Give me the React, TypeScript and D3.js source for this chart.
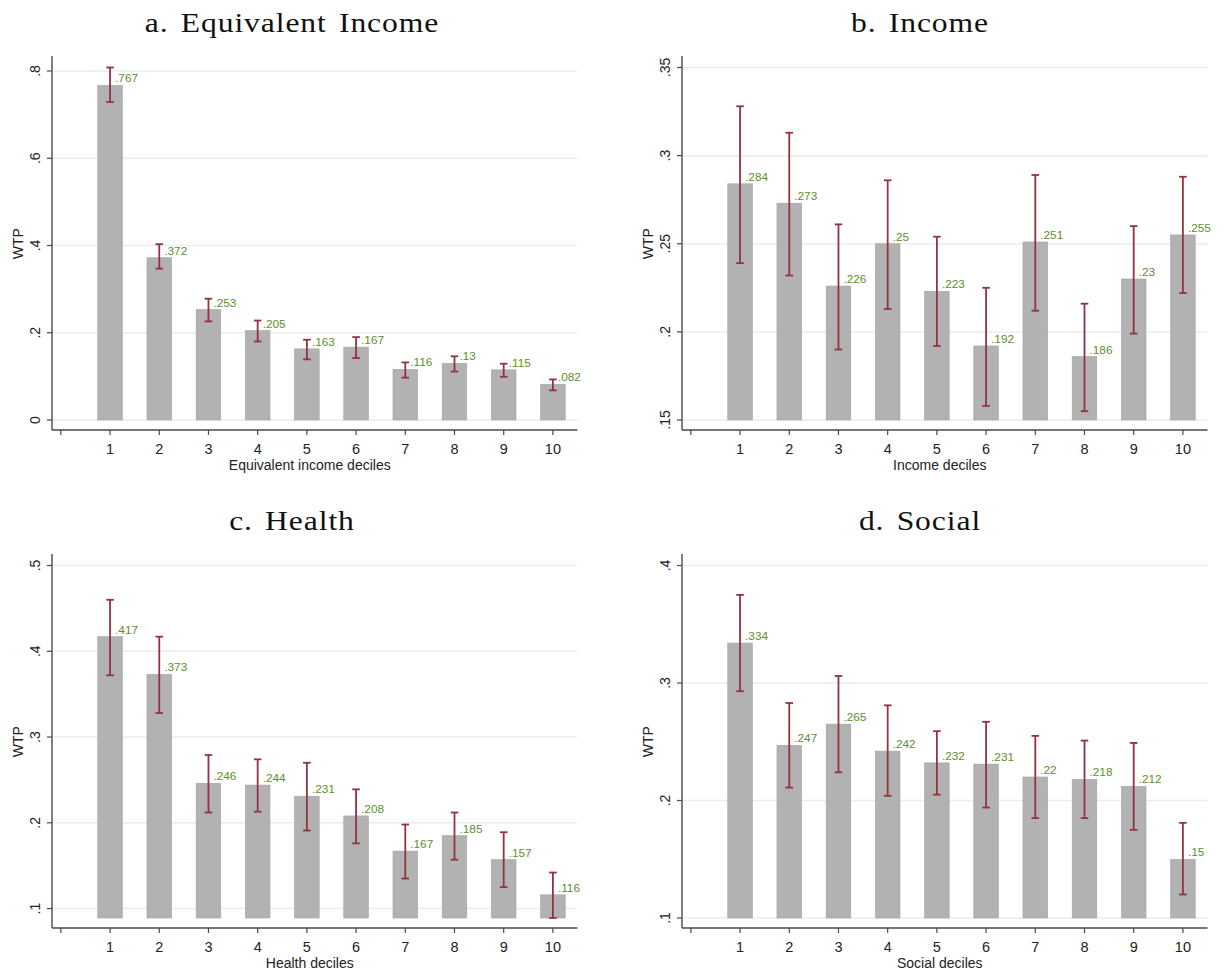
import React from "react";
import * as d3 from "d3";

// Decile categories shared by every panel
const deciles = [1, 2, 3, 4, 5, 6, 7, 8, 9, 10];

// a. Equivalent income
const eqIncomeWTP = [0.767, 0.372, 0.253, 0.205, 0.163, 0.167, 0.116, 0.13, 0.115, 0.082];
const eqIncomeLow = [0.729, 0.347, 0.226, 0.18, 0.139, 0.142, 0.097, 0.111, 0.099, 0.068];
const eqIncomeHigh = [0.808, 0.403, 0.278, 0.228, 0.184, 0.19, 0.132, 0.146, 0.129, 0.093];
const eqIncomeTicks = [0, 0.2, 0.4, 0.6, 0.8];

// b. Income
const incomeWTP = [0.284, 0.273, 0.226, 0.25, 0.223, 0.192, 0.251, 0.186, 0.23, 0.255];
const incomeLow = [0.239, 0.232, 0.19, 0.213, 0.192, 0.158, 0.212, 0.155, 0.199, 0.222];
const incomeHigh = [0.328, 0.313, 0.261, 0.286, 0.254, 0.225, 0.289, 0.216, 0.26, 0.288];
const incomeTicks = [0.15, 0.2, 0.25, 0.3, 0.35];

// c. Health
const healthWTP = [0.417, 0.373, 0.246, 0.244, 0.231, 0.208, 0.167, 0.185, 0.157, 0.116];
const healthLow = [0.372, 0.328, 0.212, 0.213, 0.191, 0.176, 0.135, 0.157, 0.125, 0.089];
const healthHigh = [0.46, 0.417, 0.279, 0.274, 0.27, 0.239, 0.198, 0.212, 0.189, 0.142];
const healthTicks = [0.1, 0.2, 0.3, 0.4, 0.5];

// d. Social
const socialWTP = [0.334, 0.247, 0.265, 0.242, 0.232, 0.231, 0.22, 0.218, 0.212, 0.15];
const socialLow = [0.293, 0.211, 0.224, 0.204, 0.205, 0.194, 0.185, 0.185, 0.175, 0.12];
const socialHigh = [0.375, 0.283, 0.306, 0.281, 0.259, 0.267, 0.255, 0.251, 0.249, 0.181];
const socialTicks = [0.1, 0.2, 0.3, 0.4];

const panelTitles = ["a. Equivalent Income", "b. Income", "c. Health", "d. Social"];
const axisTitles = ["Equivalent income deciles", "Income deciles", "Health deciles", "Social deciles"];

const panels = [
  { title: panelTitles[0], xTitle: axisTitles[0], wtp: eqIncomeWTP, low: eqIncomeLow, high: eqIncomeHigh, ticks: eqIncomeTicks, col: 0, row: 0 },
  { title: panelTitles[1], xTitle: axisTitles[1], wtp: incomeWTP, low: incomeLow, high: incomeHigh, ticks: incomeTicks, col: 1, row: 0 },
  { title: panelTitles[2], xTitle: axisTitles[2], wtp: healthWTP, low: healthLow, high: healthHigh, ticks: healthTicks, col: 0, row: 1 },
  { title: panelTitles[3], xTitle: axisTitles[3], wtp: socialWTP, low: socialLow, high: socialHigh, ticks: socialTicks, col: 1, row: 1 },
];

// Stata-style number: drop the leading zero (".25", "0")
const stataNum = (v: number) => {
  const s = d3.format("")(+v.toFixed(3));
  return s.replace(/^0\./, ".").replace(/^-0\./, "-.");
};

const SANS = "'Liberation Sans', Arial, sans-serif";
const SERIF = "'Liberation Serif', 'Times New Roman', serif";
const AXIS = "#4a4a4a";
const GRID = "#ececec";
const BAR = "#b2b2b2";
const BAR_EDGE = "#a2a2a2";
const CI = "#94323f";
const LABEL = "#5e8f2c";

function Panel({ p }: { p: (typeof panels)[number] }) {
  const yAxisX = p.col === 0 ? 52 : 682;
  const axisEndX = yAxisX + 525.5;
  const rowOff = p.row === 0 ? 0 : 498;
  const plotTop = 67.5 + rowOff;
  const plotBottom = 420 + rowOff;
  const xAxisY = 430 + rowOff;
  const yAxisTop = 56 + rowOff;

  const yMin = Math.min(p.ticks[0], d3.min(p.low) as number);
  const yMax = Math.max(p.ticks[p.ticks.length - 1], d3.max(p.high) as number);
  const y = d3.scaleLinear().domain([yMin, yMax]).range([plotBottom, plotTop]);
  const x = d3.scaleLinear().domain([-0.18, 10.5]).range([yAxisX, axisEndX]);
  const barW = x(0.5) - x(0);
  const xTicks = d3.range(0, 11);
  const titleX = p.col === 0 ? 292 : 920;
  const midX = (yAxisX + axisEndX) / 2 - 5;

  return (
    <g>
      <g transform={`translate(${titleX},${31.5 + rowOff}) scale(1.13,1)`}>
        <text x={0} y={0} textAnchor="middle" fontFamily={SERIF} fontSize={28} letterSpacing={0.8} wordSpacing={3} fill="#111">
          {p.title}
        </text>
      </g>
      {/* grid */}
      {p.ticks.map((t) => (
        <line key={"g" + t} x1={yAxisX} x2={axisEndX} y1={y(t)} y2={y(t)} stroke={GRID} strokeWidth={1.5} />
      ))}
      {/* bars */}
      {p.wtp.map((v, i) => (
        <rect
          key={"b" + i}
          x={x(deciles[i]) - barW / 2}
          y={y(v)}
          width={barW}
          height={y(yMin) - y(v)}
          fill={BAR}
          stroke={BAR_EDGE}
          strokeWidth={0.6}
        />
      ))}
      {/* confidence intervals */}
      {p.wtp.map((_, i) => {
        const cx = x(deciles[i]);
        return (
          <g key={"c" + i} stroke={CI} strokeWidth={1.8}>
            <line x1={cx} x2={cx} y1={y(p.high[i])} y2={y(p.low[i])} />
            <line x1={cx - 3.8} x2={cx + 3.8} y1={y(p.high[i])} y2={y(p.high[i])} />
            <line x1={cx - 3.8} x2={cx + 3.8} y1={y(p.low[i])} y2={y(p.low[i])} />
          </g>
        );
      })}
      {/* value labels */}
      {p.wtp.map((v, i) => (
        <text key={"l" + i} x={x(deciles[i]) + 5} y={y(v) - 3} fontFamily={SANS} fontSize={11.8} fill={LABEL}>
          {stataNum(v)}
        </text>
      ))}
      {/* y axis */}
      <line x1={yAxisX} x2={yAxisX} y1={yAxisTop} y2={xAxisY} stroke={AXIS} strokeWidth={1.4} />
      {p.ticks.map((t) => (
        <g key={"yt" + t}>
          <line x1={yAxisX - 5} x2={yAxisX} y1={y(t)} y2={y(t)} stroke={AXIS} strokeWidth={1.2} />
          <text
            transform={`translate(${yAxisX - 12},${y(t)}) rotate(-90)`}
            textAnchor="middle"
            fontFamily={SANS}
            fontSize={14}
            fill="#222"
          >
            {stataNum(t)}
          </text>
        </g>
      ))}
      <text
        transform={`translate(${yAxisX - 29},${(plotTop + plotBottom) / 2}) rotate(-90)`}
        textAnchor="middle"
        fontFamily={SANS}
        fontSize={14}
        fill="#222"
      >
        WTP
      </text>
      {/* x axis */}
      <line x1={yAxisX} x2={axisEndX} y1={xAxisY} y2={xAxisY} stroke={AXIS} strokeWidth={1.4} />
      {xTicks.map((t) => (
        <g key={"xt" + t}>
          <line x1={x(t)} x2={x(t)} y1={xAxisY} y2={xAxisY + 5} stroke={AXIS} strokeWidth={1.2} />
          {t > 0 && (
            <text x={x(t)} y={xAxisY + 24} textAnchor="middle" fontFamily={SANS} fontSize={14.5} fill="#222">
              {t}
            </text>
          )}
        </g>
      ))}
      <text x={midX} y={xAxisY + 39.5} textAnchor="middle" fontFamily={SANS} fontSize={14} fill="#222">
        {p.xTitle}
      </text>
    </g>
  );
}

export default function App() {
  return (
    <svg width={1227} height={974} style={{ position: "absolute", left: 0, top: 0, background: "#fff" }}>
      <rect width={1227} height={974} fill="#fff" />
      {panels.map((p) => (
        <Panel key={p.title} p={p} />
      ))}
    </svg>
  );
}
